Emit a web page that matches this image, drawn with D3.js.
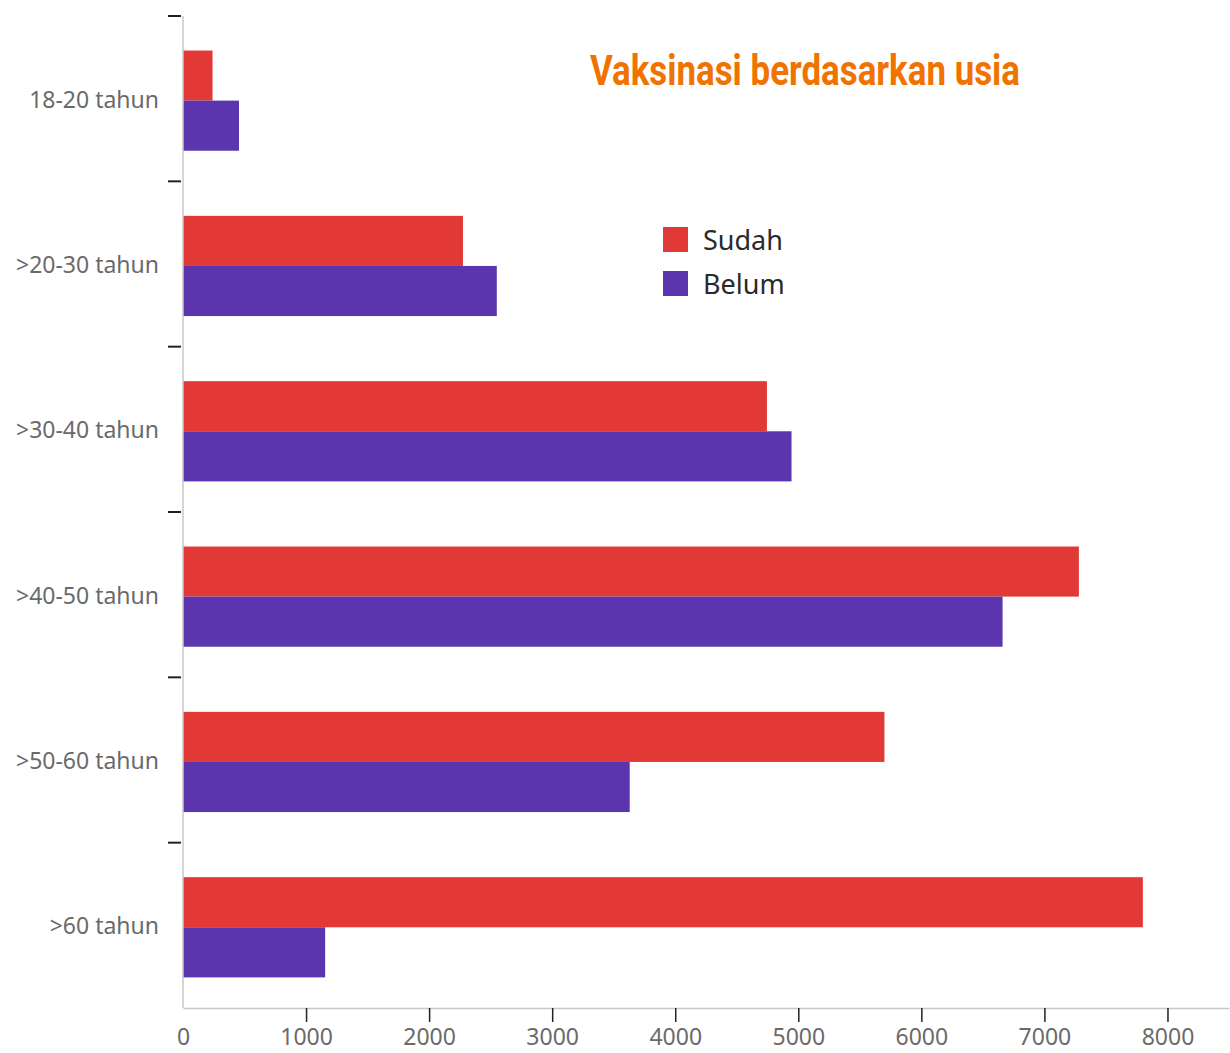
<!DOCTYPE html>
<html>
<head>
<meta charset="utf-8">
<script src="https://cdn.jsdelivr.net/npm/d3@7"></script>
<style>
body { margin: 0; background: #fff; }
svg { display: block; }
</style>
</head>
<body>
<div id="chart"></div>
<script>
// data
var categories = ["18-20 tahun", ">20-30 tahun", ">30-40 tahun", ">40-50 tahun", ">50-60 tahun", ">60 tahun"];
var sudah = [240, 2275, 4745, 7280, 5700, 7800];
var belum = [455, 2550, 4945, 6660, 3630, 1155];
var series = ["Sudah", "Belum"];
var xTicks = [0, 1000, 2000, 3000, 4000, 5000, 6000, 7000, 8000];
var colors = {"Sudah": "#e23836", "Belum": "#5a35ae"};

var width = 1230, height = 1053;

var svg = d3.select("#chart")
	.append("svg")
	.attr("width", width)
	.attr("height", height);

var x = d3.scaleLinear()
	.domain([0, 8500])
	.range([183, 1229]);

var y0 = d3.scaleBand()
	.domain(categories)
	.range([16, 1008])
	.padding(0);

var y1 = d3.scaleBand()
	.domain(series)
	.range([0, y0.bandwidth()])
	.paddingOuter(0.65)
	.align(0.53);

var rows = categories.map(function(c, i) {
	return {cat: c, vals: [{s: "Sudah", v: sudah[i]}, {s: "Belum", v: belum[i]}]};
});

// bars
var group = svg.selectAll(".row")
	.data(rows)
	.enter().append("g")
	.attr("class", "row")
	.attr("transform", function(d) { return "translate(0," + y0(d.cat) + ")"; });

group.selectAll("rect")
	.data(function(d) { return d.vals; })
	.enter().append("rect")
	.attr("x", x(0))
	.attr("y", function(d) { return y1(d.s); })
	.attr("width", function(d) { return x(d.v) - x(0); })
	.attr("height", y1.bandwidth())
	.attr("fill", function(d) { return colors[d.s]; });

// x axis
var xAxis = svg.append("g")
	.attr("transform", "translate(0," + y0.range()[1] + ")")
	.call(d3.axisBottom(x).tickValues(xTicks).tickFormat(d3.format("d"))
		.tickSize(14).tickPadding(4).tickSizeOuter(0));
xAxis.select(".domain").attr("stroke", "#c8c8c8").attr("stroke-width", 1.5);
xAxis.selectAll(".tick line").attr("stroke", "#222").attr("stroke-width", 1.5)
	.filter(function(d) { return d === 0; }).remove();
xAxis.selectAll(".tick text")
	.attr("y", 21)
	.attr("font-family", "Noto Sans")
	.attr("font-size", 23)
	.attr("fill", "#6a6a6a");

// y axis line
svg.append("line")
	.attr("x1", x(0)).attr("x2", x(0))
	.attr("y1", y0.range()[0]).attr("y2", y0.range()[1])
	.attr("stroke", "#c8c8c8")
	.attr("stroke-width", 1.5);

// y tick marks at band edges
var edges = categories.map(function(c) { return y0(c); });
svg.selectAll(".ytick")
	.data(edges)
	.enter().append("line")
	.attr("class", "ytick")
	.attr("x1", x(0) - 15).attr("x2", x(0) - 2)
	.attr("y1", function(d) { return d; })
	.attr("y2", function(d) { return d; })
	.attr("stroke", "#222")
	.attr("stroke-width", 2);

// y labels
svg.selectAll(".ylabel")
	.data(categories)
	.enter().append("text")
	.attr("class", "ylabel")
	.attr("x", 159)
	.attr("y", function(d) { return y0(d) + y0.bandwidth() / 2 + 1; })
	.attr("dy", "0.35em")
	.attr("text-anchor", "end")
	.attr("font-family", "Noto Sans")
	.attr("font-size", 23)
	.attr("fill", "#6a6a6a")
	.text(function(d) { return d; });

// legend
var legend = svg.selectAll(".legend")
	.data(series)
	.enter().append("g")
	.attr("class", "legend")
	.attr("transform", function(d, i) { return "translate(663," + (227 + i * 44) + ")"; });

legend.append("rect")
	.attr("width", 25)
	.attr("height", 25)
	.attr("fill", function(d) { return colors[d]; });

legend.append("text")
	.attr("x", 40)
	.attr("y", 13)
	.attr("dy", "0.36em")
	.attr("font-family", "Noto Sans")
	.attr("font-size", 27)
	.attr("fill", "#2a2a2a")
	.text(function(d) { return d; });

// title
svg.append("text")
	.attr("x", 590)
	.attr("y", 85)
	.attr("font-family", "Roboto")
	.attr("font-weight", "bold")
	.attr("font-size", 42)
	.attr("textLength", 430)
	.attr("lengthAdjust", "spacingAndGlyphs")
	.attr("fill", "#f07300")
	.text("Vaksinasi berdasarkan usia");
</script>
</body>
</html>
